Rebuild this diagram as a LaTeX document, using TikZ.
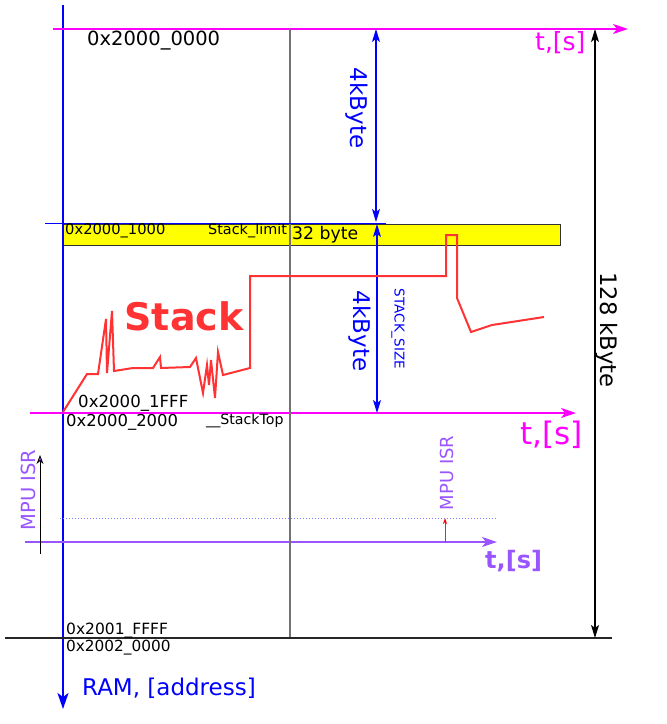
\documentclass[tikz,border=0pt]{standalone}
\usepackage{fontspec}
\setmainfont{DejaVu Sans}
\usetikzlibrary{arrows.meta}
\definecolor{mag}{HTML}{FF00FF}
\definecolor{blu}{HTML}{0000FF}
\definecolor{pur}{HTML}{9955FF}
\definecolor{stk}{HTML}{FF3333}
\definecolor{yel}{HTML}{FFFF00}
\begin{document}
\begin{tikzpicture}[x=1pt,y=-1pt,
  lbl/.style={inner sep=0pt,anchor=west},
  tip/.style={-{Stealth[length=15pt,width=10pt,inset=4pt]}},
  dbl/.style={{Stealth[length=13pt,width=8pt,inset=3pt]}-{Stealth[length=13pt,width=8pt,inset=3pt]}},
  fsz/.style={font=\fontsize{#1}{#1}\selectfont},
  bsz/.style={font=\fontsize{#1}{#1}\selectfont\bfseries}]
\useasboundingbox (0,0) rectangle (667,724);
% coordinates
\coordinate (ramtop) at (63,5);
\coordinate (ramend) at (63,709);
\coordinate (t1s) at (53,29);
\coordinate (t1e) at (628,29);
\coordinate (t2s) at (30,413);
\coordinate (t2e) at (576,413);
\coordinate (t3s) at (25,542);
\coordinate (t3e) at (497,542);
\coordinate (gtop) at (290,29);
\coordinate (gbot) at (290,638);
\coordinate (bls) at (5,638);
\coordinate (ble) at (612,638);
\coordinate (limS) at (45,223);
\coordinate (limE) at (386,223);
% yellow box
\node[draw=black!80,fill=yel,minimum width=497pt,minimum height=21pt,inner sep=0pt,anchor=north west] (box) at (63,224) {};
% axes
\draw[blu,line width=2pt,-{Stealth[length=16pt,width=11pt,inset=4pt]}] (ramtop) -- (ramend);
\draw[mag,line width=1.3pt,tip] (t1s) -- (t1e);
\draw[mag,line width=1.3pt,tip] (t2s) -- (t2e);
\draw[pur,line width=1.5pt,tip] (t3s) -- (t3e);
\draw[black!55,line width=1.5pt] (gtop) -- (gbot);
\draw[black!85,line width=1.5pt] (bls) -- (ble);
\draw[blu,line width=1pt] (limS) -- (limE);
% dimension arrows
\coordinate (d1a) at (376,29);
\coordinate (d1b) at (376,222);
\draw[blu,line width=1.2pt,dbl] (d1a) -- (d1b);
\coordinate (d2a) at (377,224);
\coordinate (d2b) at (377,413);
\draw[blu,line width=1.2pt,dbl] (d2a) -- (d2b);
\coordinate (d3a) at (595,29);
\coordinate (d3b) at (595,638);
\draw[black,line width=1.3pt,dbl] (d3a) -- (d3b);
% texts
\node[lbl,fsz=19.5] (a0) at (87,41) {0x2000\_0000};
\node[lbl,fsz=25,text=mag] (ts1) at (535,43) {t,[s]};
\node[fsz=23,text=blu,rotate=-90,inner sep=0pt] (kb1) at (357,108) {4kByte};
\node[lbl,fsz=14.7] (a1) at (65,231) {0x2000\_1000};
\node[lbl,fsz=14.4] (sl) at (208,231) {Stack\_limit};
\node[lbl,fsz=17.3] (b32) at (292,235) {32 byte};
\node[fsz=23,text=blu,rotate=-90,inner sep=0pt] (kb2) at (360,331) {4kByte};
\node[fsz=13.5,text=blu,rotate=-90,inner sep=0pt] (ss) at (398,329) {STACK\_SIZE};
\node[fsz=22.7,rotate=-90,inner sep=0pt] (k128) at (607,330) {128 kByte};
\node[bsz=38,text=stk,inner sep=0pt] (stack) at (184,316) {Stack};
\node[lbl,fsz=16.6] (a2) at (78,403) {0x2000\_1FFF};
\node[lbl,fsz=16.4] (a3) at (66,422) {0x2000\_2000};
\node[lbl,fsz=14.2] (st) at (206,421) {\_\_StackTop};
\node[lbl,fsz=31,text=mag] (ts2) at (520,435) {t,[s]};
\node[lbl,bsz=24,text=pur] (ts3) at (485,561) {t,[s]};
\node[lbl,fsz=15.5,inner sep=0pt] (a4) at (66,631) {0x2001\_FFFF};
\node[lbl,fsz=15.3,inner sep=0pt] (a5) at (66,648) {0x2002\_0000};
\node[lbl,fsz=23,text=blu] (ram) at (82,688) {RAM, [address]};
\node[fsz=19.5,text=pur,rotate=90,inner sep=0pt] (mpu1) at (28,490) {MPU ISR};
\node[fsz=18,text=pur,rotate=90,inner sep=0pt] (mpu2) at (447,473) {MPU ISR};
% MPU ISR arrows
\coordinate (m1a) at (40,554);
\coordinate (m1b) at (40,455);
\draw[black,line width=0.8pt,-{Stealth[length=9pt,width=7pt,fill=pur]}] (m1a) -- (m1b);
\coordinate (dots) at (60,518);
\coordinate (dote) at (497,518);
\draw[blu!50,line width=1pt,dotted] (dots) -- (dote);
\coordinate (m2a) at (445,542);
\coordinate (m2b) at (445,518);
\draw[blu!70,line width=0.8pt,-{Stealth[length=6pt,width=4pt,color=red]}] (m2a) -- (m2b);
% stack curve
\draw[stk,line width=2pt,line join=miter] (63,412) -- (87,374) -- (98,374) -- (106,319) -- (107,373) -- (112,311) -- (114,371)
 -- (133,368) -- (153,368) -- (160,357) -- (161,368) -- (190,367) -- (196,358) -- (203,393) -- (207,365) -- (209,385)
 -- (211,360) -- (215,398) -- (218,352) -- (223,375) -- (250,368) -- (250,276) -- (446,276) -- (446,235) -- (457,235)
 -- (457,298) -- (471,332) -- (492,325) -- (544,317);
\end{tikzpicture}
\end{document}
